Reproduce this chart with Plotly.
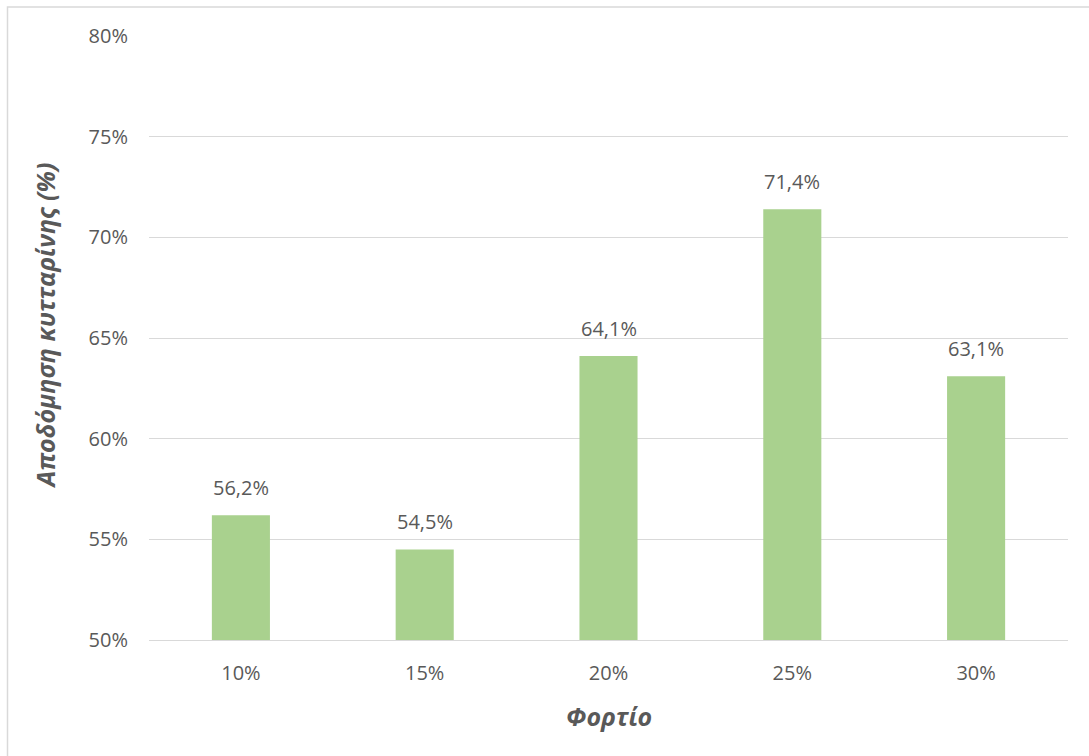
import plotly.graph_objects as go

categories = ["10%", "15%", "20%", "25%", "30%"]
values = [56.2, 54.5, 64.1, 71.4, 63.1]
y_ticks = [50, 55, 60, 65, 70, 75, 80]
y_tick_labels = [f"{t}%" for t in y_ticks]
x_title = "Φορτίο"
y_title = "Αποδόμηση κυτταρίνης (%)"

FONT = "Open Sans"
TXT = "#595959"
GRID = "#D9D9D9"
BAR = "#A9D18E"

fig = go.Figure()
fig.add_trace(go.Bar(x=categories, y=values, marker=dict(color=BAR, line=dict(width=0)),
                     hoverinfo="skip"))

annotations = []
for c, v in zip(categories, values):
    annotations.append(dict(x=c, y=v, xref="x", yref="y",
                            text=f"{v:.1f}".replace(".", ",") + "%",
                            showarrow=False, yanchor="bottom", yshift=12,
                            font=dict(family=FONT, size=20, color=TXT)))
annotations.append(dict(x=0.5, y=-0.125, xref="paper", yref="paper", text=f"<b><i>{x_title}</i></b>",
                        showarrow=False, xanchor="center", yanchor="middle",
                        font=dict(family=FONT, size=25, color=TXT)))
annotations.append(dict(x=-0.113, y=0.521, xref="paper", yref="paper", text=f"<b><i>{y_title}</i></b>",
                        showarrow=False, xanchor="center", yanchor="middle", textangle=-90,
                        font=dict(family=FONT, size=25, color=TXT)))

fig.update_layout(
    width=1089, height=756,
    margin=dict(l=149, r=21, t=36, b=116),
    paper_bgcolor="white", plot_bgcolor="white",
    showlegend=False,
    bargap=0.684,
    annotations=annotations,
    font=dict(family=FONT, size=20, color=TXT),
    shapes=[dict(type="rect", xref="paper", yref="paper",
                 x0=(7.5 - 149) / 919, x1=1.2, y0=-0.5, y1=1 + (36 - 7) / 604,
                 line=dict(color=GRID, width=1.5), layer="below")],
)
fig.update_xaxes(showgrid=False, showline=True, linecolor=GRID, linewidth=1,
                 ticks="", ticklabelstandoff=15, tickfont=dict(family=FONT, size=20, color=TXT))
fig.update_yaxes(range=[50, 80], tickvals=y_ticks, ticktext=y_tick_labels,
                 showgrid=True, gridcolor=GRID, gridwidth=1, zeroline=False, showline=False,
                 ticks="", ticklabelstandoff=20, tickfont=dict(family=FONT, size=20, color=TXT))

fig.write_html("out.html")
